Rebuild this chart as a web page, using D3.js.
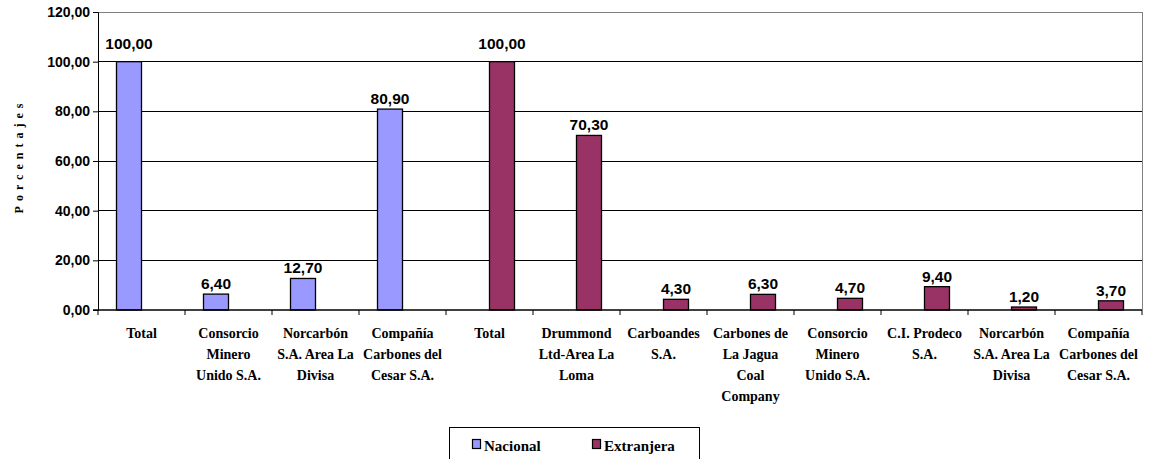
<!DOCTYPE html>
<html><head><meta charset="utf-8">
<script src="https://d3js.org/d3.v7.min.js"></script>
<style>body{margin:0;background:#fff}svg{display:block}</style>
</head><body><div id="chart"></div>
<script>
const categories = [
  ["Total"],
  ["Consorcio","Minero","Unido S.A."],
  ["Norcarbón","S.A. Area La","Divisa"],
  ["Compañía","Carbones del","Cesar S.A."],
  ["Total"],
  ["Drummond","Ltd-Area La","Loma"],
  ["Carboandes","S.A."],
  ["Carbones de","La Jagua","Coal","Company"],
  ["Consorcio","Minero","Unido S.A."],
  ["C.I. Prodeco","S.A."],
  ["Norcarbón","S.A. Area La","Divisa"],
  ["Compañía","Carbones del","Cesar S.A."]
];
const nacional   = [100.00, 6.40, 12.70, 80.90, null, null, null, null, null, null, null, null];
const extranjera = [null, null, null, null, 100.00, 70.30, 4.30, 6.30, 4.70, 9.40, 1.20, 3.70];
const seriesNames = ["Nacional", "Extranjera"];
const seriesColors = ["#9999FF", "#993366"];
const yTicks = [0, 20, 40, 60, 80, 100, 120];

const W = 1151, H = 459;
const m = {left: 98, right: 5, top: 12, bottom: 149};
const svg = d3.select("#chart").append("svg").attr("width", W).attr("height", H);

const x = d3.scaleBand().domain(d3.range(categories.length)).range([m.left, 1142]).padding(0);
const y = d3.scaleLinear().domain([0, 120]).range([310, m.top]);
const fmt = v => d3.format(".2f")(v).replace(".", ",");
const sansB = "'Liberation Sans', Arial, sans-serif";
const serifB = "'Liberation Serif', 'Times New Roman', serif";

// gridlines
svg.append("g").selectAll("line").data(yTicks.filter(t => t > 0)).join("line")
  .attr("x1", m.left).attr("x2", 1142)
  .attr("y1", d => y(d)).attr("y2", d => y(d))
  .attr("stroke", d => d === 120 ? "#808080" : "#000").attr("stroke-width", 1)
  .attr("shape-rendering", "crispEdges");
// right border
svg.append("line").attr("x1", 1142.5).attr("x2", 1142.5).attr("y1", y(120)).attr("y2", y(0))
  .attr("stroke", "#808080").attr("stroke-width", 1);

// y axis
const yAxis = svg.append("g").attr("transform", `translate(${m.left},0)`)
  .call(d3.axisLeft(y).tickValues(yTicks).tickFormat(fmt).tickSize(5).tickPadding(3));
yAxis.select(".domain").attr("stroke", "#000");
yAxis.selectAll("text").attr("font-family", sansB).attr("font-weight", "bold").attr("font-size", "14px").attr("fill", "#000");

// bars
const bw = 25;
const series = [nacional, extranjera];
series.forEach((vals, si) => {
  const g = svg.append("g");
  const data = vals.map((v, i) => ({i, v})).filter(d => d.v !== null);
  g.selectAll("rect").data(data).join("rect")
    .attr("x", d => x(d.i) + x.bandwidth() / 2 + (si === 0 ? -bw : 0))
    .attr("width", bw)
    .attr("y", d => y(d.v)).attr("height", d => y(0) - y(d.v))
    .attr("fill", seriesColors[si]).attr("stroke", "#000").attr("stroke-width", 1.3);
  g.selectAll("text").data(data).join("text")
    .attr("x", d => x(d.i) + x.bandwidth() / 2 + (si === 0 ? -bw / 2 : bw / 2))
    .attr("y", d => y(d.v) - (d.v >= 100 ? 13 : 5))
    .attr("text-anchor", "middle")
    .attr("font-family", sansB).attr("font-weight", "bold").attr("font-size", "15.5px")
    .text(d => fmt(d.v));
});

// x axis
const xAxis = svg.append("g").attr("transform", `translate(0,${y(0)})`);
xAxis.append("line").attr("x1", m.left - 5).attr("x2", 1142).attr("y1", 0).attr("y2", 0)
  .attr("stroke", "#000").attr("stroke-width", 1.5);
xAxis.selectAll("line.tick").data(d3.range(categories.length + 1)).join("line").attr("class", "tick")
  .attr("x1", d => m.left + d * x.bandwidth()).attr("x2", d => m.left + d * x.bandwidth())
  .attr("y1", 0).attr("y2", 5).attr("stroke", "#000");
const labels = svg.append("g");
categories.forEach((lines, i) => {
  const t = labels.append("text").attr("text-anchor", "middle")
    .attr("font-family", serifB).attr("font-weight", "bold").attr("font-size", "14px");
  lines.forEach((ln, k) => {
    t.append("tspan").attr("x", x(i) + x.bandwidth() / 2).attr("y", 338 + k * 21).text(ln);
  });
});

// y title
svg.append("text").attr("transform", "translate(23,156) rotate(-90)")
  .attr("text-anchor", "middle").attr("font-family", serifB).attr("font-weight", "bold")
  .attr("font-size", "12px").attr("letter-spacing", "5px").text("Porcentajes");

// legend
const lg = svg.append("g");
lg.append("rect").attr("x", 449.5).attr("y", 427.5).attr("width", 250).attr("height", 40)
  .attr("fill", "#fff").attr("stroke", "#000");
const lx = [472, 592];
seriesNames.forEach((n, i) => {
  lg.append("rect").attr("x", lx[i] + 0.5).attr("y", 439.5).attr("width", 8).attr("height", 9)
    .attr("fill", seriesColors[i]).attr("stroke", "#000").attr("stroke-width", 1.2);
  lg.append("text").attr("x", lx[i] + 12).attr("y", 451)
    .attr("font-family", serifB).attr("font-weight", "bold").attr("font-size", "15px").text(n);
});
</script></body></html>
